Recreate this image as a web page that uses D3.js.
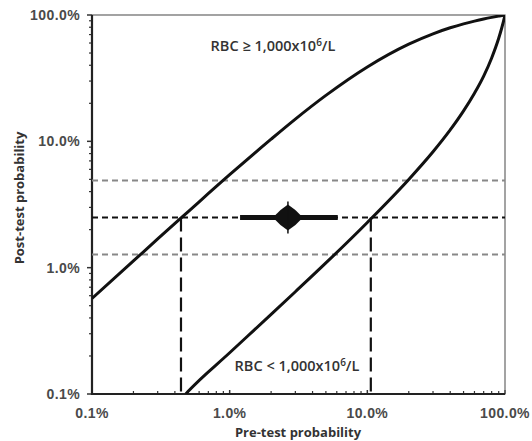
<!DOCTYPE html>
<html>
<head>
<meta charset="utf-8">
<script src="https://cdn.jsdelivr.net/npm/d3@7/dist/d3.min.js"></script>
<style>
  body { margin: 0; background: #fff; }
  text { font-family: "Liberation Sans", Arial, sans-serif; }
</style>
</head>
<body>
<div id="chart"></div>
<script>
// values (percent)
var preTicks = [0.1, 1, 10, 100];
var tickLabels = ["0.1%", "1.0%", "10.0%", "100.0%"];

// RBC >= 1,000 curve (pre-test %, post-test %)
var posPre  = [0.1, 0.2, 0.3, 0.5, 1, 2, 3, 5, 10, 20, 30, 40, 50, 60, 70, 80, 90, 95, 100];
var posPost = [0.57, 1.13, 1.69, 2.78, 5.44, 10.4, 15.0, 23.1, 38.8, 58.8, 71.0, 79.2, 85.1, 89.5, 93.0, 95.8, 98.1, 99.1, 100];

// RBC < 1,000 curve
var negPre  = [0.48, 0.5, 1, 2, 3, 5, 10, 20, 30, 40, 50, 60, 70, 80, 90, 95, 99, 100];
var negPost = [0.1, 0.105, 0.212, 0.427, 0.645, 1.09, 2.28, 4.99, 8.26, 12.3, 17.4, 24.0, 32.8, 45.7, 65.4, 80.0, 95.4, 100];

// estimate with interval
var estPre = 2.65, estLow = 1.19, estHigh = 6.1;
var postMid = 2.49, postLow = 1.27, postHigh = 4.9;
var crossPre = [0.443, 10.6];

var width = 532, height = 441;
var margin = {top: 15, right: 27, bottom: 47, left: 92};
var w = width - margin.left - margin.right,
    h = height - margin.top - margin.bottom;

var svg = d3.select("#chart").append("svg")
    .attr("width", width)
    .attr("height", height);

var g = svg.append("g")
    .attr("transform", "translate(" + margin.left + "," + margin.top + ")");

var x = d3.scaleLog().domain([0.1, 100]).range([0, w]);
var y = d3.scaleLog().domain([0.1, 100]).range([h, 0]);

// minor ticks
var minor = [];
[0.1, 1, 10].forEach(function(d) {
    for (var k = 2; k <= 9; k++) minor.push(d * k);
});

// y ticks (outside, left)
g.selectAll(".ytick").data(minor).enter().append("line")
    .attr("x1", -3).attr("x2", 0)
    .attr("y1", function(d) { return y(d); })
    .attr("y2", function(d) { return y(d); })
    .attr("stroke", "#333").attr("stroke-width", 1.2);
g.selectAll(".ytickM").data(preTicks).enter().append("line")
    .attr("x1", -5).attr("x2", 0)
    .attr("y1", function(d) { return y(d); })
    .attr("y2", function(d) { return y(d); })
    .attr("stroke", "#333").attr("stroke-width", 1.5);

// x ticks (inside, up)
g.selectAll(".xtick").data(minor).enter().append("line")
    .attr("x1", function(d) { return x(d); })
    .attr("x2", function(d) { return x(d); })
    .attr("y1", h).attr("y2", h - 3)
    .attr("stroke", "#333").attr("stroke-width", 1.2);
g.selectAll(".xtickM").data(preTicks).enter().append("line")
    .attr("x1", function(d) { return x(d); })
    .attr("x2", function(d) { return x(d); })
    .attr("y1", h).attr("y2", h - 4)
    .attr("stroke", "#333").attr("stroke-width", 1.5);

// tick labels
g.selectAll(".ylab").data(preTicks).enter().append("text")
    .attr("x", -12)
    .attr("y", function(d) { return y(d); })
    .attr("dy", "0.35em")
    .attr("text-anchor", "end")
    .style("font-size", "14px")
    .style("font-weight", "bold")
    .style("letter-spacing", "0.4px")
    .style("fill", "#4a4a4a")
    .text(function(d, i) { return tickLabels[i]; });

g.selectAll(".xlab").data(preTicks).enter().append("text")
    .attr("x", function(d) { return x(d); })
    .attr("y", h + 24)
    .attr("text-anchor", "middle")
    .style("font-size", "14px")
    .style("font-weight", "bold")
    .style("letter-spacing", "0.4px")
    .style("fill", "#4a4a4a")
    .text(function(d, i) { return tickLabels[i]; });

// frame
g.append("rect")
    .attr("x", 0).attr("y", 0)
    .attr("width", w).attr("height", h)
    .attr("fill", "none")
    .attr("stroke", "#666").attr("stroke-width", 1.2);
g.append("path")
    .attr("d", "M0,0V" + h + "H" + w)
    .attr("fill", "none")
    .attr("stroke", "#222").attr("stroke-width", 2.2);

// horizontal reference lines
g.selectAll(".hgrey").data([postLow, postHigh]).enter().append("line")
    .attr("x1", 0).attr("x2", w)
    .attr("y1", function(d) { return y(d); })
    .attr("y2", function(d) { return y(d); })
    .attr("stroke", "#888").attr("stroke-width", 2)
    .attr("stroke-dasharray", "6,4");
g.append("line")
    .attr("x1", 0).attr("x2", w)
    .attr("y1", y(postMid)).attr("y2", y(postMid))
    .attr("stroke", "#111").attr("stroke-width", 2)
    .attr("stroke-dasharray", "6,4");

// vertical dashed drops
g.selectAll(".vdash").data(crossPre).enter().append("line")
    .attr("x1", function(d) { return x(d); })
    .attr("x2", function(d) { return x(d); })
    .attr("y1", y(postMid)).attr("y2", h)
    .attr("stroke", "#111").attr("stroke-width", 2.2)
    .attr("stroke-dasharray", "14,6");

// curves
var clip = svg.append("defs").append("clipPath").attr("id", "clip");
clip.append("rect").attr("width", w).attr("height", h);

var line = d3.line()
    .x(function(d) { return x(d[0]); })
    .y(function(d) { return y(d[1]); })
    .curve(d3.curveMonotoneX);

var curves = [d3.zip(posPre, posPost), d3.zip(negPre, negPost)];
g.append("g").attr("clip-path", "url(#clip)")
    .selectAll("path").data(curves).enter().append("path")
    .attr("d", line)
    .attr("fill", "none")
    .attr("stroke", "#111")
    .attr("stroke-width", 3);

// estimate bar and diamond
g.append("line")
    .attr("x1", x(estLow)).attr("x2", x(estHigh))
    .attr("y1", y(postMid)).attr("y2", y(postMid))
    .attr("stroke", "#111").attr("stroke-width", 5);

var cx = x(estPre), cy = y(postMid);
g.append("path")
    .attr("d", "M" + cx + "," + (cy - 13) +
        "Q" + (cx + 8) + "," + (cy - 8) + " " + (cx + 15) + "," + cy +
        "Q" + (cx + 8) + "," + (cy + 8) + " " + cx + "," + (cy + 13) +
        "Q" + (cx - 8) + "," + (cy + 8) + " " + (cx - 15) + "," + cy +
        "Q" + (cx - 8) + "," + (cy - 8) + " " + cx + "," + (cy - 13) + "Z")
    .attr("fill", "#111");
g.append("line")
    .attr("x1", cx).attr("x2", cx)
    .attr("y1", cy - 16).attr("y2", cy + 16)
    .attr("stroke", "#111").attr("stroke-width", 1.5);

// annotations
g.append("text")
    .attr("x", 273 - margin.left).attr("y", 51 - margin.top)
    .attr("text-anchor", "middle")
    .style("font-family", "'Open Sans', sans-serif")
    .style("font-size", "14.5px")
    .style("font-weight", "600")
    .style("fill", "#333")
    .html("RBC \u2265 1,000x10<tspan dy='-5' font-size='10px'>6</tspan><tspan dy='5'>/L</tspan>");

g.append("text")
    .attr("x", 297 - margin.left).attr("y", 371 - margin.top)
    .attr("text-anchor", "middle")
    .style("font-family", "'Open Sans', sans-serif")
    .style("font-size", "14.5px")
    .style("font-weight", "600")
    .style("fill", "#333")
    .html("RBC &lt; 1,000x10<tspan dy='-5' font-size='10px'>6</tspan><tspan dy='5'>/L</tspan>");

// axis titles
svg.append("text")
    .attr("x", 298).attr("y", 437)
    .attr("text-anchor", "middle")
    .style("font-family", "'Open Sans', sans-serif")
    .style("font-size", "13px")
    .style("font-weight", "bold")
    .style("fill", "#333")
    .text("Pre-test probability");

svg.append("text")
    .attr("transform", "translate(24,198) rotate(-90)")
    .attr("text-anchor", "middle")
    .style("font-family", "'Open Sans', sans-serif")
    .style("font-size", "13px")
    .style("font-weight", "bold")
    .style("fill", "#333")
    .text("Post-test probability");
</script>
</body>
</html>
